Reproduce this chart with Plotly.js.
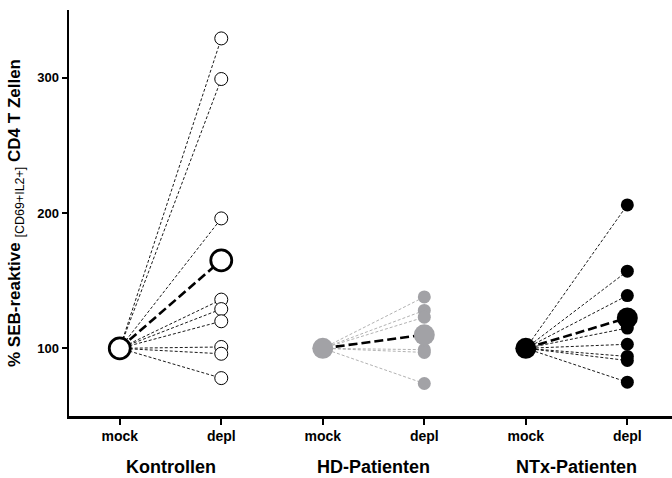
<!DOCTYPE html>
<html><head><meta charset="utf-8">
<script src="https://cdn.plot.ly/plotly-3.0.1.min.js"></script>
<style>html,body{margin:0;padding:0;background:#fff}#c{width:672px;height:478px}</style>
</head><body><div id="c"></div>
<script>
const groups = ["Kontrollen", "HD-Patienten", "NTx-Patienten"];
const conditions = ["mock", "depl"];
const mockValue = 100;
const kontrollenDepl = [329, 299, 196, 136, 129, 120, 101, 96, 78];
const hdDepl = [138, 128, 123, 99, 97, 74];
const ntxDepl = [206, 157, 139, 115, 103, 94, 91, 75];
const groupMeans = [165, 110, 122.5];
const yTicks = [100, 200, 300];

const fills = ["#ffffff", "#a2a2a6", "#000000"];
const edges = ["#000000", "#a2a2a6", "#000000"];
const thinLine = ["#000000", "#a9a9a9", "#000000"];
const allDepl = [kontrollenDepl, hdDepl, ntxDepl];
const FONT = 'Arial, Liberation Sans, Helvetica, sans-serif';

const traces = [];
allDepl.forEach((vals, g) => {
  const xm = g * 2, xd = g * 2 + 1;
  const lx = [], ly = [];
  vals.forEach(v => { lx.push(xm, xd, null); ly.push(mockValue, v, null); });
  traces.push({x: lx, y: ly, mode: 'lines', line: {color: thinLine[g], width: 0.9, dash: '3px,2px'}, hoverinfo: 'skip'});
});
allDepl.forEach((vals, g) => {
  const xd = g * 2 + 1;
  traces.push({x: vals.map(() => xd), y: vals, mode: 'markers',
    marker: {size: 13, color: fills[g], line: {color: edges[g], width: g === 0 ? 1 : 0}}});
});
allDepl.forEach((vals, g) => {
  const xm = g * 2, xd = g * 2 + 1;
  traces.push({x: [xm, xd], y: [mockValue, groupMeans[g]], mode: 'lines',
    line: {color: '#000000', width: 2.6, dash: '9px,4px'}});
  traces.push({x: [xm, xd], y: [mockValue, groupMeans[g]], mode: 'markers',
    marker: {size: 21, color: fills[g], line: {color: edges[g], width: g === 0 ? 2.8 : 0}}});
});

const annotations = groups.map((name, g) => ({
  x: g * 2 + 0.5, y: -0.1256, xref: 'x', yref: 'paper', text: name, showarrow: false,
  yanchor: 'middle', font: {family: FONT, size: 18, color: '#000', weight: 'bold'}
}));

const layout = {
  width: 672, height: 478, showlegend: false,
  paper_bgcolor: '#fff', plot_bgcolor: '#fff',
  margin: {l: 69, r: 0, t: 10, b: 62},
  xaxis: {
    range: [-0.5, 5.44], tickvals: [0, 1, 2, 3, 4, 5],
    ticktext: [0,1,2,3,4,5].map(i => conditions[i % 2]),
    showgrid: false, zeroline: false, showline: true, linecolor: '#000', linewidth: 2.5,
    ticks: 'outside', ticklen: 6, tickwidth: 2, tickcolor: '#000',
    tickfont: {family: FONT, size: 14, color: '#000', weight: 'bold'}
  },
  yaxis: {
    range: [50, 350], tickvals: yTicks, ticktext: yTicks.map(String),
    showgrid: false, zeroline: false, showline: true, linecolor: '#000', linewidth: 2.5,
    ticks: 'outside', ticklen: 5, tickwidth: 2, tickcolor: '#000',
    tickfont: {family: FONT, size: 13, color: '#000', weight: 'bold'},
    title: {text: '% SEB-reaktive <sub><span style="font-size:12.5px;font-weight:normal">[CD69+IL2+]</span></sub> CD4 T Zellen',
      font: {family: FONT, size: 17, color: '#000', weight: 'bold'}, standoff: 12}
  },
  annotations: annotations
};
Plotly.newPlot('c', traces, layout, {displayModeBar: false, staticPlot: true});
</script></body></html>
